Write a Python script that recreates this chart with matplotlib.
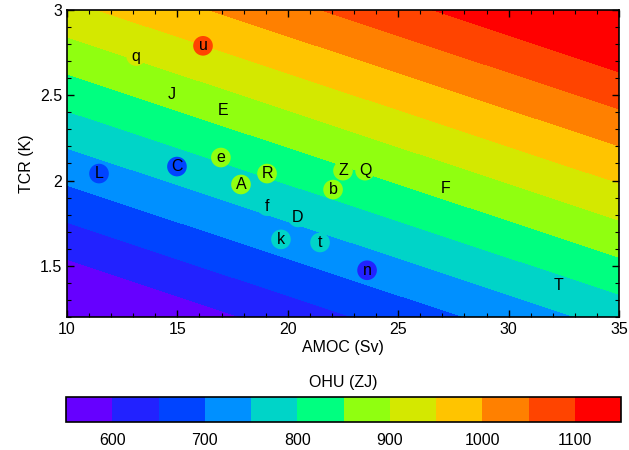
import numpy as np
import matplotlib
matplotlib.use("Agg")
import matplotlib.pyplot as plt
from matplotlib.colors import ListedColormap, BoundaryNorm
from matplotlib.ticker import MultipleLocator

plt.rcParams['font.family'] = ['Liberation Sans', 'DejaVu Sans']

# Regression surface: OHU = a + b*AMOC + c*TCR
coef_a, coef_b, coef_c = 147.5, 9.88, 230.0

# Model points
labels = ['q', 'u', 'J', 'E', 'e', 'L', 'C', 'A', 'R', 'f', 'D', 'k', 't',
          'Z', 'Q', 'b', 'n', 'F', 'T']
amoc = [13.13, 16.16, 14.76, 17.07, 16.97, 11.45, 14.98, 17.88, 19.06, 19.06,
        20.46, 19.69, 21.46, 22.5, 23.5, 22.05, 23.59, 27.16, 32.28]
tcr = [2.73, 2.79, 2.503, 2.409, 2.135, 2.041, 2.082, 1.977, 2.041, 1.85,
       1.784, 1.655, 1.637, 2.058, 2.058, 1.947, 1.474, 1.953, 1.386]
ohu = [920, 1075, 870, 870, 875, 675, 680, 870, 880, 760, 770, 780, 780,
       880, 885, 870, 625, 865, 785]

levels = list(range(550, 1151, 50))
colors = ['#6600ff', '#2222ff', '#0044ff', '#0090ff', '#00d4c8', '#00ff80',
          '#90ff10', '#d4e800', '#ffc400', '#ff8000', '#ff4400', '#ff0000']
cbar_ticks = [600, 700, 800, 900, 1000, 1100]

cmap = ListedColormap(colors)
cmap.set_under(colors[0])
cmap.set_over(colors[-1])
norm = BoundaryNorm(levels, cmap.N)

fig = plt.figure(figsize=(6.29, 4.5), dpi=100)
ax = fig.add_axes([67/629, 1-317/450, (619-67)/629, (317-10)/450])

xg = np.linspace(10, 35, 300)
yg = np.linspace(1.2, 3.0, 300)
X, Y = np.meshgrid(xg, yg)
Z = coef_a + coef_b*X + coef_c*Y
ax.contourf(X, Y, Z, levels=levels, cmap=cmap, norm=norm, extend='both')

ax.scatter(amoc, tcr, c=ohu, cmap=cmap, norm=norm, s=200, edgecolors='none', zorder=3)
for lab, x, y in zip(labels, amoc, tcr):
    ax.text(x, y, lab, ha='center', va='center', fontsize=11.5, zorder=4)

ax.set_xlim(10, 35)
ax.set_ylim(1.2, 3.0)
ax.set_xticks([10, 15, 20, 25, 30, 35])
ax.set_yticks([1.5, 2.0, 2.5, 3.0])
ax.set_yticklabels(['1.5', '2', '2.5', '3'])
ax.xaxis.set_minor_locator(MultipleLocator(1))
ax.yaxis.set_minor_locator(MultipleLocator(0.1))
ax.tick_params(which='both', direction='in', top=True, right=True, labelsize=11.5)
ax.tick_params(which='major', length=5, width=1)
ax.tick_params(which='minor', length=3, width=0.8)
for s in ax.spines.values():
    s.set_linewidth(1.2)
ax.set_xlabel('AMOC (Sv)', fontsize=11.5, labelpad=2)
ax.set_ylabel('TCR (K)', fontsize=11.5)

cax = fig.add_axes([66/629, 1-422/450, (621-66)/629, 25/450])
sm = matplotlib.cm.ScalarMappable(cmap=cmap, norm=norm)
cb = fig.colorbar(sm, cax=cax, orientation='horizontal', ticks=cbar_ticks)
cb.ax.minorticks_off()
cb.ax.tick_params(which='both', length=0, labelsize=11.5, pad=8)
cb.outline.set_linewidth(1.2)
cax.set_title('OHU (ZJ)', fontsize=11.5, pad=7)

fig.savefig('out.png', dpi=100)
